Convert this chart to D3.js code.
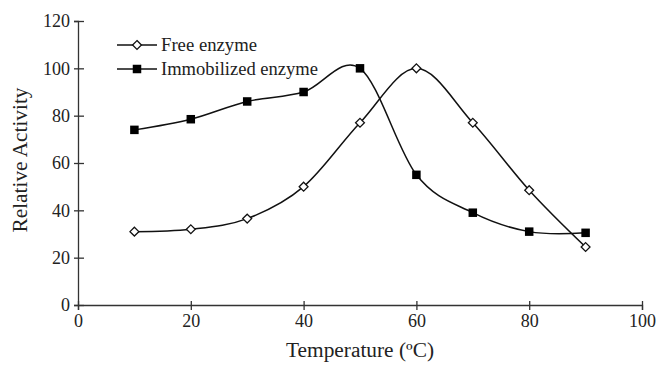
<!DOCTYPE html>
<html>
<head>
<meta charset="utf-8">
<script src="https://cdn.jsdelivr.net/npm/d3@7"></script>
<style>
  body { margin: 0; background: #fff; }
  text { font-family: "Liberation Serif", "Times New Roman", serif; fill: #222; }
</style>
</head>
<body>
<svg id="chart" width="659" height="365"></svg>
<script>
// data
var temps = [10, 20, 30, 40, 50, 60, 70, 80, 90];
var freeEnzyme = [31, 32, 36.5, 50, 77, 100, 77, 48.5, 24.5];
var immobEnzyme = [74, 78.5, 86, 90, 100, 55, 39, 31, 30.5];
var xTicks = [0, 20, 40, 60, 80, 100];
var yTicks = [0, 20, 40, 60, 80, 100, 120];

var margin = {top: 21, right: 17, bottom: 60, left: 78};
var width = 659 - margin.left - margin.right;
var height = 365 - margin.top - margin.bottom;

var svg = d3.select("#chart");
var chartGroup = svg.append("g")
  .attr("transform", `translate(${margin.left}, ${margin.top})`);

var xLinearScale = d3.scaleLinear().domain([0, 100]).range([0, width]);
var yLinearScale = d3.scaleLinear().domain([0, 120]).range([height, 0]);

// axes
var bottomAxis = d3.axisBottom(xLinearScale).tickValues(xTicks).tickSizeOuter(0).tickSize(5).tickPadding(4);
var leftAxis = d3.axisLeft(yLinearScale).tickValues(yTicks).tickSizeOuter(0).tickSize(4).tickPadding(4);

var xAxis = chartGroup.append("g")
  .attr("transform", `translate(0, ${height})`)
  .call(bottomAxis);
var yAxis = chartGroup.append("g").call(leftAxis);

[xAxis, yAxis].forEach(function(ax) {
  ax.attr("font-family", null).attr("font-size", null);
  ax.selectAll("path, line").attr("stroke", "#333").attr("stroke-width", 1.3);
  ax.selectAll("text")
    .style("font-size", "18px")
    .attr("fill", "#222");
});
// ticks cross the axis line a little
xAxis.selectAll(".tick line").attr("y1", -4);
yAxis.selectAll(".tick line").attr("x1", 6);

// lines
var line = d3.line()
  .x((d, i) => xLinearScale(temps[i]))
  .y(d => yLinearScale(d))
  .curve(d3.curveCardinal.tension(0));

chartGroup.append("path")
  .datum(immobEnzyme)
  .attr("d", line)
  .attr("fill", "none")
  .attr("stroke", "#111")
  .attr("stroke-width", 1.5);

chartGroup.append("path")
  .datum(freeEnzyme)
  .attr("d", line)
  .attr("fill", "none")
  .attr("stroke", "#111")
  .attr("stroke-width", 1.5);

// markers
var sq = 8.5;
chartGroup.selectAll(".sq")
  .data(immobEnzyme)
  .enter()
  .append("rect")
  .attr("class", "sq")
  .attr("x", (d, i) => xLinearScale(temps[i]) - sq / 2)
  .attr("y", d => yLinearScale(d) - sq / 2)
  .attr("width", sq)
  .attr("height", sq)
  .attr("fill", "#000");

var diamond = d3.symbol().type(d3.symbolDiamond2).size(50);
chartGroup.selectAll(".dia")
  .data(freeEnzyme)
  .enter()
  .append("path")
  .attr("class", "dia")
  .attr("d", diamond)
  .attr("transform", (d, i) => `translate(${xLinearScale(temps[i])}, ${yLinearScale(d)})`)
  .attr("fill", "#fff")
  .attr("stroke", "#111")
  .attr("stroke-width", 1.3);

// legend
var legend = svg.append("g");
var legendItems = [
  {label: "Free enzyme", y: 45, type: "diamond", len: 96},
  {label: "Immobilized enzyme", y: 69, type: "square", len: 157}
];
legendItems.forEach(function(item) {
  legend.append("line")
    .attr("x1", 117).attr("x2", 157)
    .attr("y1", item.y).attr("y2", item.y)
    .attr("stroke", "#111").attr("stroke-width", 1.5);
  if (item.type === "diamond") {
    legend.append("path")
      .attr("d", diamond)
      .attr("transform", `translate(137, ${item.y})`)
      .attr("fill", "#fff").attr("stroke", "#111").attr("stroke-width", 1.3);
  } else {
    legend.append("rect")
      .attr("x", 137 - sq / 2).attr("y", item.y - sq / 2)
      .attr("width", sq).attr("height", sq)
      .attr("fill", "#000");
  }
  legend.append("text")
    .attr("x", 161)
    .attr("y", item.y)
    .attr("dy", "0.35em")
    .attr("textLength", item.len)
    .attr("lengthAdjust", "spacingAndGlyphs")
    .style("font-size", "18px")
    .text(item.label);
});

// axis titles
svg.append("text")
  .attr("transform", "rotate(-90)")
  .attr("x", -160)
  .attr("y", 27)
  .attr("text-anchor", "middle")
  .attr("textLength", 145)
  .attr("lengthAdjust", "spacingAndGlyphs")
  .style("font-size", "20px")
  .text("Relative Activity");

svg.append("text")
  .attr("x", 360)
  .attr("y", 357)
  .attr("text-anchor", "middle")
  .attr("textLength", 148)
  .attr("lengthAdjust", "spacingAndGlyphs")
  .style("font-size", "20px")
  .text("Temperature (ºC)");
</script>
</body>
</html>
